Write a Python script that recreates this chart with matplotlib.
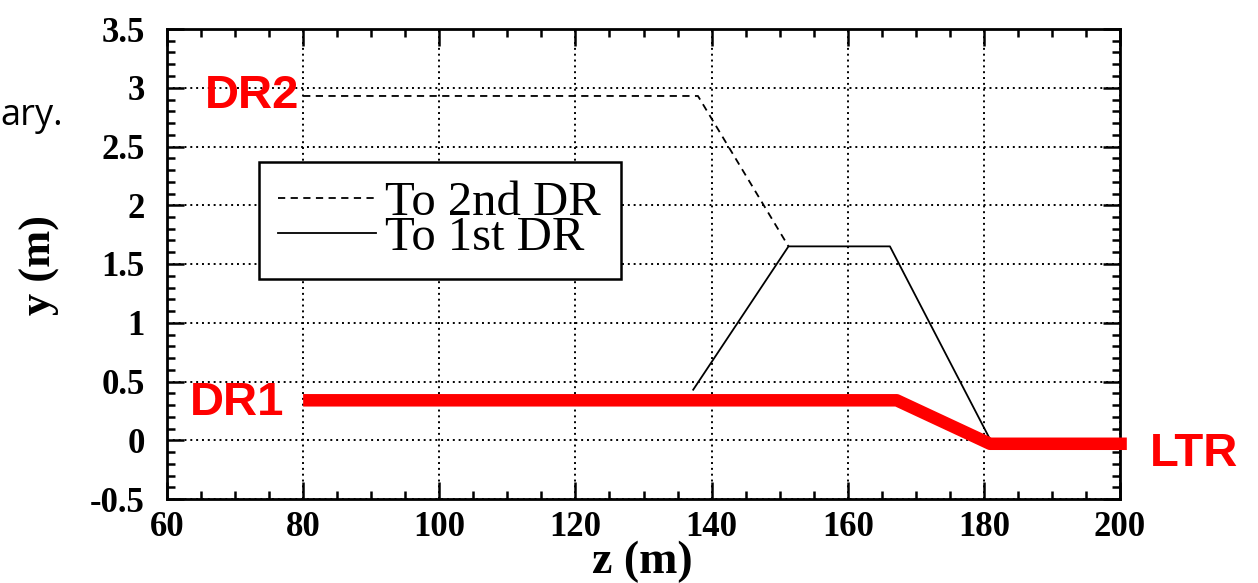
import matplotlib
matplotlib.use('Agg')
import matplotlib.pyplot as plt
from matplotlib.ticker import MultipleLocator

# path to the 2nd dump ring (dashed)
z_2nd = [80, 138, 151.3]
y_2nd = [2.93, 2.93, 1.65]

# path to the 1st dump ring (solid)
z_1st = [137.3, 151.3, 166.2, 180.8]
y_1st = [0.43, 1.65, 1.65, 0.02]

# red overlay: DR1 -> LTR
z_red = [80, 167.2, 180.9, 201]
y_red = [0.34, 0.34, -0.03, -0.03]

xticks = [60, 80, 100, 120, 140, 160, 180, 200]
yticks = [-0.5, 0, 0.5, 1, 1.5, 2, 2.5, 3, 3.5]
ytick_labels = ['-0.5', '0', '0.5', '1', '1.5', '2', '2.5', '3', '3.5']

serif = 'Liberation Serif'
sans = 'Liberation Sans'

fig = plt.figure(figsize=(12.58, 5.83), dpi=100)
ax = fig.add_axes([167/1258, 1 - 499/583, (1120-167)/1258, (499-29)/583])

ax.plot(z_2nd, y_2nd, color='black', lw=1.3, ls=(0, (4, 3)), label='To 2nd DR')
ax.plot(z_1st, y_1st, color='black', lw=1.3, label='To 1st DR')
ax.plot(z_red, y_red, color='#ff0000', lw=9, solid_capstyle='butt', clip_on=False, zorder=5)

ax.set_xlim(60, 200)
ax.set_ylim(-0.5, 3.5)
ax.set_xticks(xticks)
ax.set_yticks(yticks)
ax.set_yticklabels(ytick_labels)
ax.xaxis.set_minor_locator(MultipleLocator(5))
ax.yaxis.set_minor_locator(MultipleLocator(0.1))
ax.tick_params(which='both', direction='in', top=True, right=True, width=1.8)
ax.tick_params(which='major', length=12)
ax.tick_params(which='minor', length=6)
ax.tick_params(axis='x', pad=9)
ax.tick_params(axis='y', pad=16)
for lab in ax.get_xticklabels() + ax.get_yticklabels():
    lab.set_fontfamily(serif)
    lab.set_fontweight('bold')
    lab.set_fontsize(25)
for s in ax.spines.values():
    s.set_linewidth(2)

ax.grid(True, which='major', color='black', lw=1.4, ls=(0, (1, 2)))

fig.text(642/1258, 1 - 562/583, 'z (m)', ha='center', va='center',
         fontfamily=serif, fontweight='bold', fontsize=33)
fig.text(40/1258, 1 - 265/583, 'y (m)', rotation=90, ha='center', va='center',
         fontfamily=serif, fontweight='bold', fontsize=32)

leg = ax.legend(loc='upper left', bbox_to_anchor=(0.0965, 0.717), borderaxespad=0,
                prop={'family': serif, 'size': 35}, frameon=True, fancybox=False,
                handlelength=2.0, handletextpad=0.2, labelspacing=-0.2,
                borderpad=0.4)
leg.get_frame().set_edgecolor('black')
leg.get_frame().set_linewidth(1.8)
leg.get_frame().set_alpha(1)

lab_kw = dict(color='#ff0000', fontfamily=sans, fontweight='bold', fontsize=34, clip_on=False)
ax.text(79.5, 2.93, 'DR2', ha='right', va='center', zorder=6, **lab_kw)
ax.text(77.3, 0.32, 'DR1', ha='right', va='center', **lab_kw)
ax.text(204.4, -0.12, 'LTR', ha='left', va='center', **lab_kw)

fig.text(0, 1 - 125/583, 'ary.', ha='left', va='baseline', fontfamily='Open Sans', fontsize=26)

fig.savefig('out.png', dpi=100)
